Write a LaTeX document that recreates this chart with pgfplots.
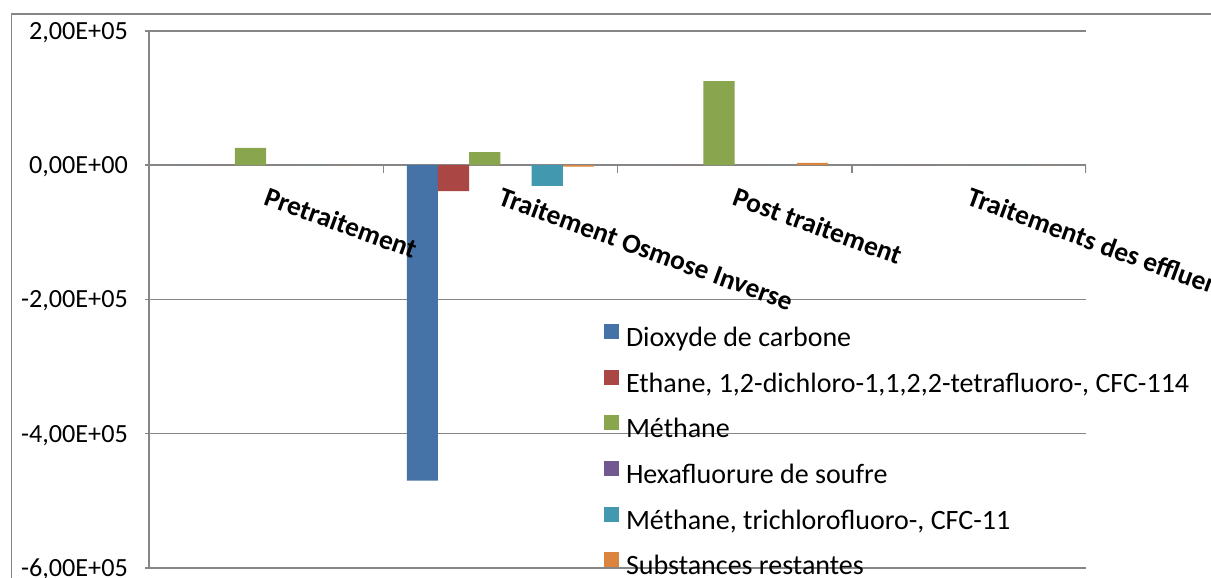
\documentclass[border=0pt]{standalone}
\usepackage{pgfplots}
\pgfplotsset{compat=1.18}
\usepackage{fontspec}
\setmainfont{Carlito}
\definecolor{c1}{RGB}{69,114,167}
\definecolor{c2}{RGB}{170,70,67}
\definecolor{c3}{RGB}{137,165,78}
\definecolor{c4}{RGB}{113,88,143}
\definecolor{c5}{RGB}{65,152,175}
\definecolor{c6}{RGB}{219,132,61}
\definecolor{ax}{RGB}{134,134,134}
\pgfplotsset{common/.style={
 scale only axis, width=937bp, height=537bp,
 anchor=south west, at={(0,0)},
 xmin=-0.5, xmax=3.5, ymin=-6e5, ymax=2e5,
 tick align=outside, major tick length=8bp,
}}
\begin{document}
\begin{tikzpicture}
\useasboundingbox (-149bp,-10bp) rectangle (1062bp,568bp);
\clip (-149bp,-10bp) rectangle (1062bp,568bp);
\draw[ax, line width=1.5bp] (-137.5bp,-50bp) -- (-137.5bp,554bp) -- (1100bp,554bp);
\begin{axis}[
 common,
 axis y line=left, axis x line=middle,
 axis line style={ax, line width=1.5bp, -},
 ytick={-6e5,-4e5,-2e5,0,2e5},
 yticklabels={{-6,00E+05},{-4,00E+05},{-2,00E+05},{0,00E+00},{2,00E+05}},
 scaled y ticks=false,
 ymajorgrids, grid style={ax, line width=1.5bp},
 ytick style={ax, line width=1.5bp},
 xtick=\empty,
 yticklabel style={font=\fontsize{26.2bp}{31bp}\selectfont, anchor=east, inner sep=0pt, xshift=-17bp, text depth=0pt},
 ybar=0pt, bar width=31.2bp,
 legend image code/.code={\fill[#1] (0bp,0bp) rectangle (15bp,15bp);},
 legend style={draw=none, fill=none, inner sep=0pt, outer sep=0pt, at={(0.4856,0.4545)}, anchor=north west, row sep=17.2bp, column sep=7bp, font=\fontsize{28bp}{33bp}\selectfont, nodes={inner sep=0pt, text height=21bp, text depth=6bp}},
 legend cell align=left,
]
\addplot[fill=c1, draw=none] coordinates {(0,0) (1,-470000) (2,0) (3,0)};
\addlegendentry{Dioxyde de carbone}
\addplot[fill=c2, draw=none] coordinates {(0,0) (1,-38400) (2,0) (3,0)};
\addlegendentry{Ethane, 1,2-dichloro-1,1,2,2-tetrafluoro-, CFC-114}
\addplot[fill=c3, draw=none] coordinates {(0,25700) (1,19700) (2,125500) (3,0)};
\addlegendentry{Méthane}
\addplot[fill=c4, draw=none] coordinates {(0,0) (1,0) (2,0) (3,0)};
\addlegendentry{Hexafluorure de soufre}
\addplot[fill=c5, draw=none] coordinates {(0,0) (1,-30900) (2,0) (3,0)};
\addlegendentry{Méthane, trichlorofluoro-, CFC-11}
\addplot[fill=c6, draw=none] coordinates {(0,0) (1,-2200) (2,3700) (3,0)};
\addlegendentry{Substances restantes}
\pgfplotsinvokeforeach{0.5,1.5,2.5,3.5}{\draw[ax, line width=1.5bp] (axis cs:#1,0) -- ([yshift=-8bp]axis cs:#1,0);}
\end{axis}
\begin{axis}[
 common,
 axis y line=left, axis x line=middle,
 axis line style={draw=none, -},
 ytick=\empty,
 xtick={0,1,2,3},
 xticklabels={Pretraitement, Traitement Osmose Inverse, Post traitement, Traitements des effluents},
 xtick style={draw=none},
 xticklabel style={font=\fontsize{27.4bp}{32bp}\selectfont\bfseries, anchor=north west, inner sep=0pt, yshift=-17bp, xshift=3bp, rotate=-20},
]
\end{axis}
\end{tikzpicture}
\end{document}
